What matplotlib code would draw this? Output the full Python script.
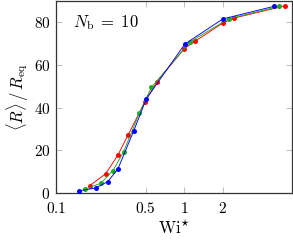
import matplotlib
matplotlib.use("Agg")
import matplotlib.pyplot as plt
from matplotlib.ticker import FixedLocator, FixedFormatter, NullLocator

plt.rcParams['mathtext.fontset'] = 'cm'
plt.rcParams['font.family'] = ['DejaVu Serif']

# Data
wi_blue = [0.152, 0.204, 0.253, 0.303, 0.403, 0.506, 1.01, 2.0, 5.0]
r_blue = [0.9, 2.2, 5.2, 11.0, 29.0, 44.1, 69.8, 81.6, 87.5]

wi_green = [0.167, 0.223, 0.278, 0.337, 0.446, 0.553, 1.11, 2.22, 5.5]
r_green = [1.6, 4.4, 10.4, 19.3, 37.4, 49.4, 70.8, 81.7, 87.5]

wi_red = [0.183, 0.244, 0.304, 0.366, 0.491, 0.612, 1.0, 1.22, 2.0, 2.44, 6.1]
r_red = [3.3, 8.9, 17.7, 27.3, 42.5, 52.2, 67.6, 71.2, 79.7, 82.0, 87.7]

xticks = [0.1, 0.5, 1, 2]
xticklabels = ['$0.1$', '$0.5$', '$1$', '$2$']
yticks = [0, 20, 40, 60, 80]
yticklabels = ['$0$', '$20$', '$40$', '$60$', '$80$']

fig = plt.figure(figsize=(2.93, 2.40), dpi=100)
ax = fig.add_axes([56/293, (240-192.7)/240, (291.7-56)/293, (192.7-1)/240])

series = [(wi_red, r_red, '#ff0000'),
          (wi_green, r_green, '#1faa1f'),
          (wi_blue, r_blue, '#0000ff')]
for x, y, c in series:
    ax.plot(x, y, '-o', color=c, lw=0.65, ms=3.6, mew=0, zorder=3)

ax.set_xscale('log')
ax.set_xlim(0.1, 6.87)
ax.set_ylim(0, 90)
ax.xaxis.set_major_locator(FixedLocator(xticks))
ax.xaxis.set_major_formatter(FixedFormatter(xticklabels))
ax.xaxis.set_minor_locator(NullLocator())
ax.yaxis.set_major_locator(FixedLocator(yticks))
ax.yaxis.set_major_formatter(FixedFormatter(yticklabels))

ax.tick_params(axis='both', which='both', direction='in', top=True, right=True,
               length=4, width=0.6, color='0.7', labelsize=11)
ax.tick_params(axis='x', pad=6)
ax.tick_params(axis='y', pad=4)
for s in ax.spines.values():
    s.set_linewidth(0.9)
    s.set_color('0.2')

ax.set_xlabel(r'$\mathrm{Wi}^{\star}$', fontsize=12, labelpad=3)
ax.set_ylabel(r'$\langle R\rangle\,/\,R_{\mathrm{eq}}$', fontsize=12, labelpad=2)
ax.text(0.072, 0.885, r'$N_{\mathrm{b}}\;=\;10$', transform=ax.transAxes,
        fontsize=12, va='center', ha='left')

fig.savefig('out.png', dpi=100)
